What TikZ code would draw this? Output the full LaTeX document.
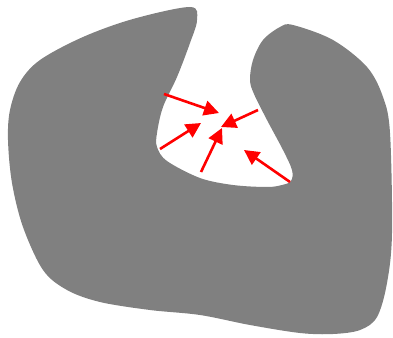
\documentclass[tikz,border=0pt]{standalone}
\usetikzlibrary{arrows.meta}

\tikzset{
    blob/.style={fill=gray, draw=none},
    push/.style={draw=red, line width=2.6pt, -{Triangle[length=15pt,width=15pt]}}
}

\begin{document}
\begin{tikzpicture}[x=1pt, y=-1pt]

    \useasboundingbox (0,0) rectangle (393,337);

    % Corpo con la rientranza
    \fill[blob] plot[smooth cycle, tension=0.55] coordinates {
        (190,7) (133,19) (83,37) (40,60) (20,82) (10,110) (8,140)
        (12,183) (23,227) (43,270) (67,290) (100,302) (150,310)
        (200,315) (250,325) (300,333) (333,334) (360,330) (377,317)
        (387,283) (392,233) (390,133) (383,97) (367,67) (333,40)
        (293,25) (280,27) (263,40) (253,60) (250,80) (254,94)
        (267,120) (283,150) (292,170) (291,181) (282,185) (267,187)
        (233,185) (200,178) (167,161) (157,147) (157,133) (163,107)
        (177,77) (190,43) (197,20)
    };

    % Punti delle frecce
    \coordinate (a1) at (164,94);
    \coordinate (b1) at (219,113);
    \coordinate (a2) at (160,149);
    \coordinate (b2) at (201,123);
    \coordinate (a3) at (201,172);
    \coordinate (b3) at (222,128);
    \coordinate (a4) at (258,110);
    \coordinate (b4) at (221,127);
    \coordinate (a5) at (290,182);
    \coordinate (b5) at (244,150);

    % Frecce rosse
    \draw[push] (a1) -- (b1);
    \draw[push] (a2) -- (b2);
    \draw[push] (a3) -- (b3);
    \draw[push] (a4) -- (b4);
    \draw[push] (a5) -- (b5);

\end{tikzpicture}
\end{document}
